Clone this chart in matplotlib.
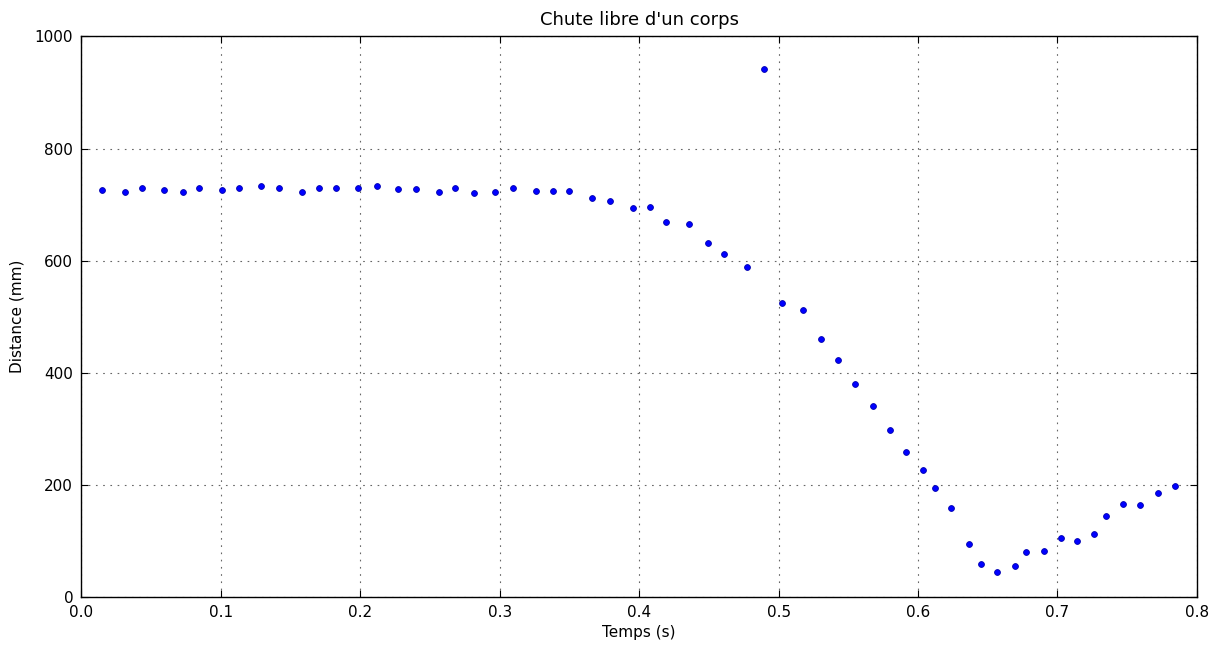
import matplotlib
matplotlib.use("Agg")
import matplotlib.pyplot as plt

# temps (s) et distance (mm)
temps = [0.0148, 0.0313, 0.0432, 0.0594, 0.0726, 0.0845, 0.1007, 0.1129, 0.1291, 0.1420,
         0.1582, 0.1701, 0.1823, 0.1986, 0.2117, 0.2272, 0.2401, 0.2563, 0.2682, 0.2813,
         0.2966, 0.3095, 0.3260, 0.3379, 0.3500, 0.3663, 0.3792, 0.3956, 0.4076, 0.4195,
         0.4359, 0.4491, 0.4608, 0.4772, 0.4892, 0.5023, 0.5175, 0.5304, 0.5424, 0.5546,
         0.5676, 0.5796, 0.5916, 0.6034, 0.6120, 0.6240, 0.6363, 0.6450, 0.6569, 0.6698,
         0.6775, 0.6903, 0.7025, 0.7144, 0.7266, 0.7351, 0.7471, 0.7593, 0.7722, 0.7841]
distance = [726, 722, 729, 726, 722, 729, 726, 729, 733, 729,
            722, 729, 729, 729, 733, 727, 727, 722, 729, 720,
            722, 729, 724, 724, 724, 711, 707, 694, 696, 669,
            666, 632, 611, 589, 942, 525, 512, 460, 422, 380,
            340, 297, 258, 226, 193, 159, 93, 58, 43, 54,
            80, 82, 104, 99, 112, 144, 165, 164, 185, 197]

fig = plt.figure(figsize=(12.25, 6.46), dpi=100)
ax = fig.add_axes([0.0665, 0.0765, 0.9105, 0.867])

ax.plot(temps, distance, 'o', color='#0000ff', markeredgecolor='#0000b0',
        markersize=4.2, markeredgewidth=0.6, zorder=3)

ax.set_xlim(0, 0.8)
ax.set_ylim(0, 1000)
ax.set_xticks([i / 10 for i in range(9)])
ax.set_xticklabels([f"{i / 10:.1f}" for i in range(9)])
ax.set_yticks(range(0, 1001, 200))

ax.grid(True, color='#666666', linestyle=(0, (1.5, 5)), linewidth=0.8)
ax.tick_params(direction='in', top=True, right=True, length=5, labelsize=11, pad=6)
for s in ax.spines.values():
    s.set_linewidth(1.0)

ax.set_title("Chute libre d'un corps", fontsize=13, pad=8)
ax.set_xlabel("Temps (s)", fontsize=11)
ax.set_ylabel("Distance (mm)", fontsize=11)
ax.yaxis.set_label_coords(-0.051, 0.5)

fig.savefig("out.png", dpi=100)
